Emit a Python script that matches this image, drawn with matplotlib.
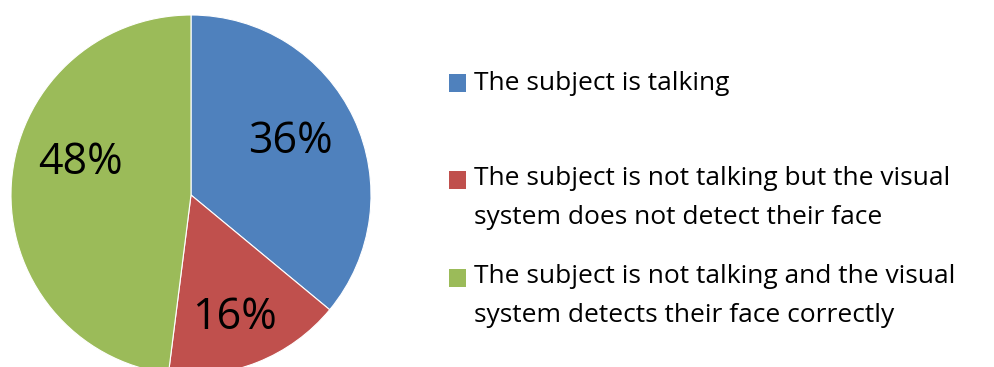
import matplotlib.pyplot as plt
from matplotlib.patches import Rectangle

labels = [
    "The subject is talking",
    "The subject is not talking but the visual\nsystem does not detect their face",
    "The subject is not talking and the visual\nsystem detects their face correctly",
]
shares = [36, 16, 48]
colors = ["#4F81BD", "#C0504D", "#9BBB59"]

W, H = 995, 367
fig = plt.figure(figsize=(W / 100, H / 100), dpi=100)

# pie axes: centre (191, 195) px from top-left, radius 180 px
cx, cy, r = 191, 195, 180
ax = fig.add_axes([(cx - r) / W, (H - cy - r) / H, 2 * r / W, 2 * r / H])
wedges, _, pct = ax.pie(
    shares, colors=colors, startangle=90, counterclock=False,
    autopct="%d%%", pctdistance=0.66,
    wedgeprops=dict(edgecolor="white", linewidth=0.8),
    textprops=dict(fontsize=31, family="Open Sans", color="black"),
)
ax.set_xlim(-1, 1)
ax.set_ylim(-1, 1)
ax.set_aspect("equal")

# "best fit" nudges for the percentage labels (pixels, x right / y up)
nudges = [(-8, 3), (0, -12), (8, 25)]
for t, (dx, dy) in zip(pct, nudges):
    x, y = t.get_position()
    t.set_position((x + dx / r, y + dy / r))

# legend drawn by hand: square + wrapped text
entry_y = [83, 198, 296]
for y, lab, col in zip(entry_y, labels, colors):
    first = y if "\n" not in lab else y - 18
    fig.patches.append(Rectangle((449 / W, (H - first - 9) / H), 17 / W, 18 / H,
                                 transform=fig.transFigure, facecolor=col,
                                 edgecolor="none"))
    fig.text(474 / W, (H - y) / H, lab, fontsize=19, family="Open Sans",
             va="center", ha="left", linespacing=1.7)

fig.savefig("out.png", dpi=100)
